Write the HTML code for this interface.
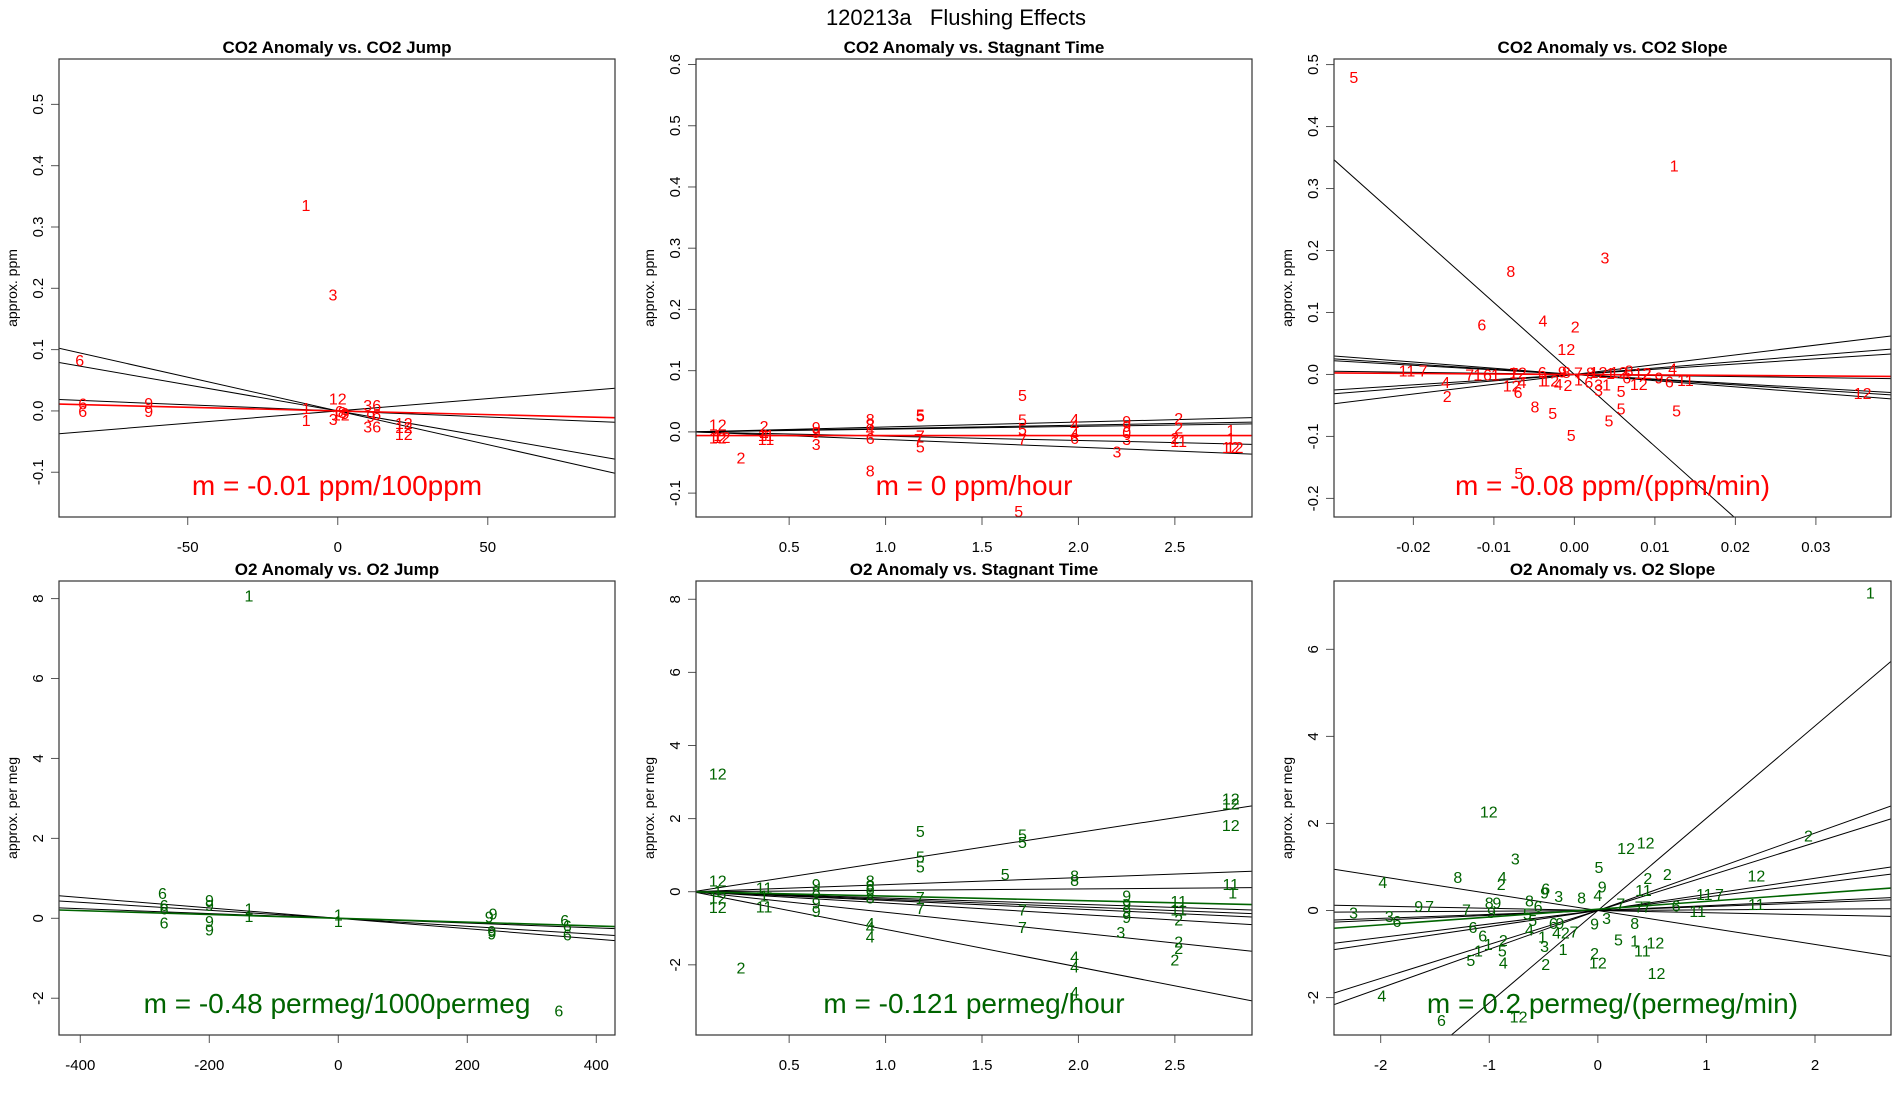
<!DOCTYPE html>
<html><head><meta charset="utf-8"><style>
body{margin:0;background:#fff;}
svg text{font-family:"Liberation Sans",Arial,sans-serif;}
</style></head><body>
<svg id="chart" xmlns="http://www.w3.org/2000/svg" width="1900" height="1100" viewBox="0 0 1900 1100">
<rect x="0" y="0" width="1900" height="1100" fill="#fff"/>
<text x="956" y="25" font-size="22" text-anchor="middle" style="white-space:pre">120213a   Flushing Effects</text>
</svg>
<script>
// ---- Panel 1: CO2 Anomaly vs CO2 Jump ----
const tlLabels = ["1","3","6","6","6","9","9","1","1","12","6","8","9","12","3","3","6","3","6","6","12","12","12","9"];
const tlX = [-10.6,-1.6,-86,-85,-85,-63,-63,-10.5,-10.5,0,0.5,1.5,2.5,1,-1.5,10,13,10,13,13,22,22,22,11];
const tlY = [0.336,0.19,0.083,0.012,0.0,0.013,0.0,0.005,-0.015,0.02,0.0,-0.002,-0.003,-0.006,-0.013,0.01,0.01,-0.025,-0.025,-0.005,-0.02,-0.026,-0.038,-0.008];
const tlSlopes = [-0.0011,-0.00085,-0.0002,0.0004];
const tlFit = [0.0, -0.00012];
// ---- Panel 2: CO2 Anomaly vs Stagnant Time ----
const tmLabels = ["12","12","12","1","2","2","4","11","11","9","9","3","8","8","4","6","8","5","5","7","7","5","5","5","5","7","5","4","4","4","6","9","9","0","3","3","2","2","2","11","1","1","12","12"];
const tmX = [0.13,0.13,0.15,0.13,0.25,0.37,0.37,0.38,0.38,0.64,0.64,0.64,0.92,0.92,0.92,0.92,0.92,1.18,1.18,1.18,1.17,1.18,1.71,1.71,1.71,1.71,1.69,1.98,1.98,1.98,1.98,2.25,2.25,2.25,2.25,2.2,2.52,2.52,2.5,2.52,2.79,2.79,2.79,2.81];
const tmY = [0.012,-0.009,-0.008,-0.005,-0.042,0.01,-0.004,-0.005,-0.012,0.008,0.0,-0.02,0.021,0.012,0.005,-0.01,-0.063,0.027,0.028,-0.006,-0.012,-0.024,0.06,0.02,0.005,-0.012,-0.129,0.021,0.012,-0.003,-0.01,0.018,0.01,0.0,-0.012,-0.032,0.023,0.007,-0.01,-0.015,0.003,-0.01,-0.025,-0.025];
const tmSlopes = [0.008,0.0055,0.0045,-0.007,-0.0125];
const tmFit = [-0.006, 0.0];
// ---- Panel 3: CO2 Anomaly vs CO2 Slope ----
const trLabels = ["5","1","3","8","6","4","2","12","11","7","7","1","6","1","4","2","8","5","5","5","5","5","5","12","4","6","11","3","5","7","12","6","9","8","7","8","12","1","12","8","12","2","9","12","6","4","1","12","4","2","1","6","3","1","6","12"];
const trX = [-0.0274,0.0124,0.0038,-0.0079,-0.0115,-0.0039,0.0001,-0.001,-0.0208,-0.0188,-0.013,-0.012,-0.0108,-0.0098,-0.016,-0.0158,-0.0049,-0.0027,-0.0004,0.0043,0.0058,0.0127,-0.0069,0.0358,0.0122,0.0118,0.0138,0.003,0.0058,-0.0075,-0.007,-0.004,-0.0015,-0.001,0.0005,0.002,0.003,0.0045,0.0055,0.0068,0.0085,0.009,0.0105,-0.0078,-0.007,-0.0065,-0.004,-0.003,-0.002,-0.0008,0.0005,0.0018,0.003,0.004,0.0065,0.008];
const trY = [0.48,0.337,0.189,0.167,0.081,0.087,0.077,0.041,0.006,0.006,0.0,0.0,0.0,0.0,-0.012,-0.035,-0.052,-0.062,-0.098,-0.074,-0.055,-0.058,-0.159,-0.03,0.01,-0.011,-0.009,-0.025,-0.027,0.002,0.003,0.004,0.005,0.004,0.003,0.003,0.004,0.002,0.004,0.006,0.002,0.002,-0.005,-0.018,-0.028,-0.012,-0.01,-0.01,-0.015,-0.017,-0.008,-0.012,-0.016,-0.016,-0.005,-0.015];
const trSlopes = [-11.6,1.58,1.04,0.84,-1.0,-0.84,-0.74,-0.17];
const trFit = [0.0, -0.08];
// ---- Panel 4: O2 Anomaly vs O2 Jump ----
const blLabels = ["1","6","6","6","6","9","9","9","9","1","1","1","1","9","9","9","9","6","6","6","6"];
const blX = [-138.6,-272.7,-270,-270,-270,-199.7,-199.7,-199.7,-199.7,-138.6,-138.6,0,0,234,240,238,238,351,355,355,342];
const blY = [8.08,0.63,0.33,0.24,-0.11,0.46,0.33,-0.07,-0.28,0.24,0.06,0.1,-0.07,0.04,0.12,-0.32,-0.38,-0.04,-0.18,-0.4,-2.31];
const blSlopes = [-0.0013,-0.001,-0.0006];
const blFit = [0.0, -0.00048];
// ---- Panel 5: O2 Anomaly vs Stagnant Time ----
const bmLabels = ["12","12","1","12","12","2","11","1","11","9","8","9","9","8","8","8","8","4","4","4","5","5","5","7","7","5","5","5","7","7","8","8","4","4","4","9","9","9","9","3","11","11","2","2","2","2","12","12","12","11","1"];
const bmX = [0.13,0.13,0.13,0.13,0.13,0.25,0.37,0.37,0.37,0.64,0.64,0.64,0.64,0.92,0.92,0.92,0.92,0.92,0.92,0.92,1.18,1.18,1.18,1.18,1.18,1.62,1.71,1.71,1.71,1.71,1.98,1.98,1.98,1.98,1.98,2.25,2.25,2.25,2.25,2.22,2.52,2.52,2.52,2.52,2.52,2.5,2.79,2.79,2.79,2.79,2.8];
const bmY = [3.24,0.3,0.02,-0.16,-0.42,-2.07,0.11,-0.1,-0.41,0.21,0.02,-0.3,-0.53,0.3,0.16,0.07,-0.16,-0.85,-0.97,-1.22,1.66,0.96,0.69,-0.14,-0.44,0.48,1.57,1.36,-0.48,-0.97,0.44,0.32,-1.77,-2.05,-2.74,-0.11,-0.33,-0.53,-0.69,-1.1,-0.25,-0.48,-0.76,-1.36,-1.54,-1.86,2.55,2.41,1.82,0.21,-0.02];
const bmSlopes = [0.81,0.193,0.038,-0.172,-0.207,-0.238,-0.31,-0.562,-1.03];
const bmFit = [0.0, -0.121];
// ---- Panel 6: O2 Anomaly vs O2 Slope ----
const brLabels = ["1","12","3","12","12","5","8","4","4","2","2","2","2","12","11","9","4","6","9","3","8","8","6","3","3","6","9","7","7","8","9","9","11","7","11","6","11","7","7","7","8","5","1","11","12","12","2","12","9","3","1","2","3","1","4","2","7","6","9","4","6","6","1","1","2","5","5","4","4","6","12","5","5"];
const brX = [2.51,-1.005,-0.76,0.26,0.44,0.01,-1.29,-1.98,-0.88,-0.89,0.46,0.64,1.94,1.46,0.42,0.04,0.0,-0.48,-0.49,-0.36,-0.15,-0.63,-0.55,-2.25,-1.92,-1.85,-1.65,-1.55,-1.21,-1.0,-0.93,-0.98,0.98,1.12,1.46,0.72,0.92,0.38,0.45,0.21,0.34,0.19,0.34,0.41,0.53,0.54,-0.03,0.0,-0.03,0.08,-0.32,-0.48,-0.49,-0.51,-0.38,-0.3,-0.22,-0.41,-0.35,-0.63,-1.15,-1.06,-1.01,-1.1,-0.87,-0.88,-1.17,-0.87,-1.99,-1.44,-0.73,-0.65,-0.6];
const brY = [7.31,2.28,1.19,1.44,1.56,1.0,0.77,0.65,0.77,0.61,0.75,0.84,1.72,0.81,0.47,0.55,0.36,0.51,0.41,0.33,0.3,0.23,0.1,-0.05,-0.13,-0.24,0.1,0.1,0.02,0.18,0.18,-0.03,0.38,0.38,0.15,0.12,-0.01,0.09,0.09,0.16,-0.29,-0.67,-0.69,-0.92,-0.73,-1.43,-0.98,-1.2,-0.3,-0.17,-0.88,-1.23,-0.81,-0.6,-0.5,-0.5,-0.48,-0.29,-0.29,-0.44,-0.38,-0.57,-0.77,-0.92,-0.68,-0.92,-1.14,-1.2,-1.95,-2.52,-2.44,-0.07,-0.22];
const brSlopes = [2.12,0.89,0.78,0.37,0.31,0.11,0.09,0.015,-0.05,-0.39];
const brFit = [0.03, 0.18];

const svg = document.getElementById('chart');
const NS = 'http://www.w3.org/2000/svg';
function mk(tag, attrs, parent) {
  const e = document.createElementNS(NS, tag);
  for (const k in attrs) e.setAttribute(k, attrs[k]);
  (parent || svg).appendChild(e);
  return e;
}

function panel(p) {
  const g = mk('g', {});
  
  
  const sx = v => p.x0 + (v - p.xmin) / (p.xmax - p.xmin) * (p.x1 - p.x0);
  const sy = v => p.y1 - (v - p.ymin) / (p.ymax - p.ymin) * (p.y1 - p.y0);
  const cp = 'clip-' + p.name;
  const defs = mk('defs', {}, g);
  const c = mk('clipPath', {id: cp}, defs);
  mk('rect', {x: p.x0, y: p.y0, width: p.x1 - p.x0, height: p.y1 - p.y0}, c);
  const t = mk('text', {x: (p.x0 + p.x1) / 2, y: p.y0 - 6, 'font-size': 17, 'font-weight': 'bold', 'text-anchor': 'middle'}, g);
  
  
  t.textContent = p.title;
  const yl = mk('text', {x: 0, y: 0, 'font-size': 14, 'text-anchor': 'middle', transform: `translate(${p.x0 - 42},${(p.y0 + p.y1) / 2}) rotate(-90)`}, g);
  
  
  yl.textContent = p.ylab;
  p.yticks.forEach((v, i) => {
    const y = sy(v);
    mk('line', {x1: p.x0 - 8, x2: p.x0, y1: y, y2: y, stroke: '#555', 'stroke-width': 1}, g);
    const tl = mk('text', {x: 0, y: 0, 'font-size': 15, 'text-anchor': 'middle', transform: `translate(${p.x0 - 16},${y}) rotate(-90)`}, g);
    
    
    tl.textContent = p.ytl[i];
  });
  p.xticks.forEach((v, i) => {
    const x = sx(v);
    mk('line', {x1: x, x2: x, y1: p.y1, y2: p.y1 + 8, stroke: '#555', 'stroke-width': 1}, g);
    const tl = mk('text', {x: x, y: p.y1 + 35, 'font-size': 15, 'text-anchor': 'middle'}, g);
    
    
    tl.textContent = p.xtl[i];
  });
  const inner = mk('g', {'clip-path': `url(#${cp})`}, g);
  p.slopes.forEach(m => {
    const ln = mk('line', {x1: sx(p.xmin), y1: sy(m * p.xmin), x2: sx(p.xmax), y2: sy(m * p.xmax), stroke: '#000', 'stroke-width': 1}, inner);
    
    
  });
  p.labels.forEach((lab, i) => {
    const tx = mk('text', {x: sx(p.xs[i]), y: sy(p.ys[i]) + 6, 'font-size': 16, fill: p.color, 'text-anchor': 'middle'}, inner);
    
    
    tx.textContent = lab;
  });
  const b = p.fit[0], m = p.fit[1];
  const fl = mk('line', {x1: sx(p.xmin), y1: sy(b + m * p.xmin), x2: sx(p.xmax), y2: sy(b + m * p.xmax), stroke: p.color, 'stroke-width': 1.6}, inner);
  
  
  const st = mk('text', {x: (p.x0 + p.x1) / 2, y: p.y1 - 22, 'font-size': 28, fill: p.color, 'text-anchor': 'middle'}, g);
  
  
  st.textContent = p.mtext;
  const bx = mk('rect', {x: p.x0, y: p.y0, width: p.x1 - p.x0, height: p.y1 - p.y0, fill: 'none', stroke: '#333', 'stroke-width': 1.2}, g);
  
  
}

const RED = '#ff0000', GRN = '#006400';
const L = [59, 615], M = [696, 1252], R = [1334, 1891];
const TOP = [59, 517], BOT = [581, 1035];
panel({name: 'co2-vs-jump-panel', title: 'CO2 Anomaly vs. CO2 Jump', ylab: 'approx. ppm', x0: L[0], x1: L[1], y0: TOP[0], y1: TOP[1],
  xmin: -92.9, xmax: 92.4, ymin: -0.173, ymax: 0.574, xticks: [-50, 0, 50], xtl: ['-50', '0', '50'],
  yticks: [-0.1, 0, 0.1, 0.2, 0.3, 0.4, 0.5], ytl: ['-0.1', '0.0', '0.1', '0.2', '0.3', '0.4', '0.5'],
  labels: tlLabels, xs: tlX, ys: tlY, slopes: tlSlopes, fit: tlFit, color: RED, mtext: 'm = -0.01 ppm/100ppm'});
panel({name: 'co2-vs-stagnant-panel', title: 'CO2 Anomaly vs. Stagnant Time', ylab: 'approx. ppm', x0: M[0], x1: M[1], y0: TOP[0], y1: TOP[1],
  xmin: 0.017, xmax: 2.90, ymin: -0.139, ymax: 0.609, xticks: [0.5, 1, 1.5, 2, 2.5], xtl: ['0.5', '1.0', '1.5', '2.0', '2.5'],
  yticks: [-0.1, 0, 0.1, 0.2, 0.3, 0.4, 0.5, 0.6], ytl: ['-0.1', '0.0', '0.1', '0.2', '0.3', '0.4', '0.5', '0.6'],
  labels: tmLabels, xs: tmX, ys: tmY, slopes: tmSlopes, fit: tmFit, color: RED, mtext: 'm = 0 ppm/hour'});
panel({name: 'co2-vs-slope-panel', title: 'CO2 Anomaly vs. CO2 Slope', ylab: 'approx. ppm', x0: R[0], x1: R[1], y0: TOP[0], y1: TOP[1],
  xmin: -0.02986, xmax: 0.03933, ymin: -0.230, ymax: 0.509, xticks: [-0.02, -0.01, 0, 0.01, 0.02, 0.03], xtl: ['-0.02', '-0.01', '0.00', '0.01', '0.02', '0.03'],
  yticks: [-0.2, -0.1, 0, 0.1, 0.2, 0.3, 0.4, 0.5], ytl: ['-0.2', '-0.1', '0.0', '0.1', '0.2', '0.3', '0.4', '0.5'],
  labels: trLabels, xs: trX, ys: trY, slopes: trSlopes, fit: trFit, color: RED, mtext: 'm = -0.08 ppm/(ppm/min)'});
panel({name: 'o2-vs-jump-panel', title: 'O2 Anomaly vs. O2 Jump', ylab: 'approx. per meg', x0: L[0], x1: L[1], y0: BOT[0], y1: BOT[1],
  xmin: -433, xmax: 429, ymin: -2.92, ymax: 8.44, xticks: [-400, -200, 0, 200, 400], xtl: ['-400', '-200', '0', '200', '400'],
  yticks: [-2, 0, 2, 4, 6, 8], ytl: ['-2', '0', '2', '4', '6', '8'],
  labels: blLabels, xs: blX, ys: blY, slopes: blSlopes, fit: blFit, color: GRN, mtext: 'm = -0.48 permeg/1000permeg'});
panel({name: 'o2-vs-stagnant-panel', title: 'O2 Anomaly vs. Stagnant Time', ylab: 'approx. per meg', x0: M[0], x1: M[1], y0: BOT[0], y1: BOT[1],
  xmin: 0.017, xmax: 2.90, ymin: -3.92, ymax: 8.50, xticks: [0.5, 1, 1.5, 2, 2.5], xtl: ['0.5', '1.0', '1.5', '2.0', '2.5'],
  yticks: [-2, 0, 2, 4, 6, 8], ytl: ['-2', '0', '2', '4', '6', '8'],
  labels: bmLabels, xs: bmX, ys: bmY, slopes: bmSlopes, fit: bmFit, color: GRN, mtext: 'm = -0.121 permeg/hour'});
panel({name: 'o2-vs-slope-panel', title: 'O2 Anomaly vs. O2 Slope', ylab: 'approx. per meg', x0: R[0], x1: R[1], y0: BOT[0], y1: BOT[1],
  xmin: -2.43, xmax: 2.70, ymin: -2.86, ymax: 7.57, xticks: [-2, -1, 0, 1, 2], xtl: ['-2', '-1', '0', '1', '2'],
  yticks: [-2, 0, 2, 4, 6], ytl: ['-2', '0', '2', '4', '6'],
  labels: brLabels, xs: brX, ys: brY, slopes: brSlopes, fit: brFit, color: GRN, mtext: 'm = 0.2 permeg/(permeg/min)'});
</script>
</body></html>
